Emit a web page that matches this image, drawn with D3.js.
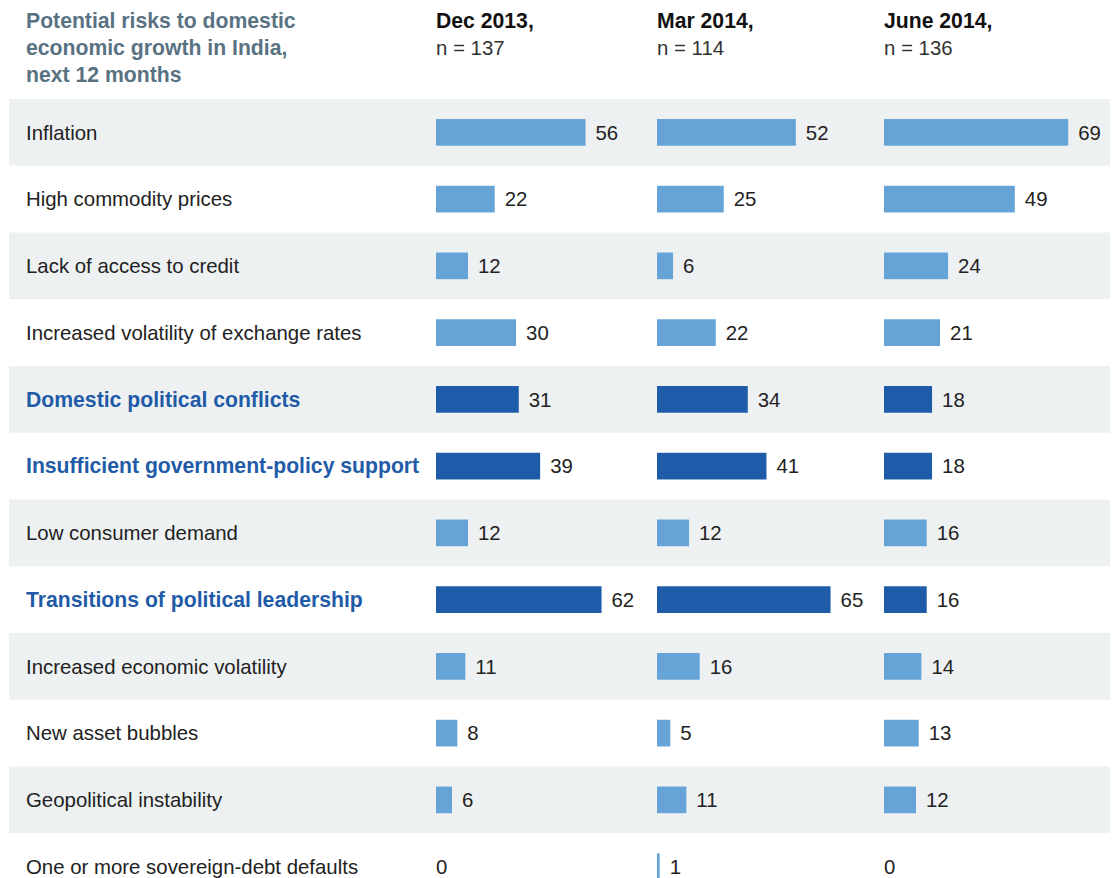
<!DOCTYPE html>
<html>
<head>
<meta charset="utf-8">
<script src="https://cdn.jsdelivr.net/npm/d3@7"></script>
<style>
  body { margin: 0; background: #fff; }
  svg text { font-family: "Liberation Sans", Arial, Helvetica, sans-serif; }
</style>
</head>
<body>
<svg id="chart" width="1117" height="878"></svg>
<script>
// data
const risks = [
  'Inflation',
  'High commodity prices',
  'Lack of access to credit',
  'Increased volatility of exchange rates',
  'Domestic political conflicts',
  'Insufficient government-policy support',
  'Low consumer demand',
  'Transitions of political leadership',
  'Increased economic volatility',
  'New asset bubbles',
  'Geopolitical instability',
  'One or more sovereign-debt defaults'
];
const highlighted = [
  'Domestic political conflicts',
  'Insufficient government-policy support',
  'Transitions of political leadership'
];
const periods = ['Dec 2013,', 'Mar 2014,', 'June 2014,'];
const respondents = ['n = 137', 'n = 114', 'n = 136'];
const dec2013 = [56, 22, 12, 30, 31, 39, 12, 62, 11, 8, 6, 0];
const mar2014 = [52, 25, 6, 22, 34, 41, 12, 65, 16, 5, 11, 1];
const jun2014 = [69, 49, 24, 21, 18, 18, 16, 16, 14, 13, 12, 0];
const series = [dec2013, mar2014, jun2014];
const titleLines = ['Potential risks to domestic', 'economic growth in India,', 'next 12 months'];

const svg = d3.select('#chart');
const fs = 20.4;      // regular text
const fsBold = 21.2;  // bold text
const lightBlue = '#66a4d7';
const darkBlue = '#1e5ba8';

let y = d3.scaleBand()
  .domain(risks)
  .range([99, 99 + 66.75 * risks.length])
  .paddingInner(0);

let colX = d3.scaleOrdinal()
  .domain(periods)
  .range([436, 657, 884]);

let x = d3.scaleLinear().domain([0, 100]).range([0, 267]);

// striped rows
svg.selectAll('rect.stripe')
  .data(risks.filter((d, i) => i % 2 === 0))
  .enter().append('rect')
  .attr('class', 'stripe')
  .attr('x', 9)
  .attr('width', 1101)
  .attr('y', d => y(d))
  .attr('height', y.bandwidth())
  .attr('fill', '#eef1f2');

// title
svg.selectAll('text.title')
  .data(titleLines)
  .enter().append('text')
  .attr('class', 'title')
  .attr('x', 26)
  .attr('y', (d, i) => 28 + i * 27)
  .attr('font-size', fsBold)
  .attr('font-weight', 'bold')
  .attr('fill', '#587282')
  .text(d => d);

// column headers
periods.forEach((p, i) => {
  svg.append('text')
    .attr('x', colX(p))
    .attr('y', 28)
    .attr('font-size', fsBold)
    .attr('font-weight', 'bold')
    .attr('fill', '#111')
    .text(p);
  svg.append('text')
    .attr('x', colX(p))
    .attr('y', 55)
    .attr('font-size', fs)
    .attr('fill', '#333')
    .text(respondents[i]);
});

// row labels
svg.selectAll('text.risk')
  .data(risks)
  .enter().append('text')
  .attr('class', 'risk')
  .attr('x', 26)
  .attr('y', d => y(d) + y.bandwidth() / 2 + fs * 0.36)
  .attr('font-size', d => highlighted.includes(d) ? fsBold : fs)
  .attr('font-weight', d => highlighted.includes(d) ? 'bold' : 'normal')
  .attr('fill', d => highlighted.includes(d) ? '#1f5ba7' : '#222')
  .text(d => d);

// bars + values
const barH = y.bandwidth() * 0.4;
periods.forEach((p, pi) => {
  let g = svg.append('g').attr('transform', 'translate(' + colX(p) + ',0)');
  let cells = series[pi].map((v, i) => ({risk: risks[i], value: v}));

  g.selectAll('rect')
    .data(cells.filter(d => d.value > 0))
    .enter().append('rect')
    .attr('x', 0)
    .attr('y', d => y(d.risk) + (y.bandwidth() - barH) / 2)
    .attr('width', d => x(d.value))
    .attr('height', barH)
    .attr('fill', d => highlighted.includes(d.risk) ? darkBlue : lightBlue);

  g.selectAll('text')
    .data(cells)
    .enter().append('text')
    .attr('x', d => d.value > 0 ? x(d.value) + 10 : 0)
    .attr('y', d => y(d.risk) + y.bandwidth() / 2 + fs * 0.36)
    .attr('font-size', fs)
    .attr('fill', '#222')
    .text(d => d.value);
});
</script>
</body>
</html>
